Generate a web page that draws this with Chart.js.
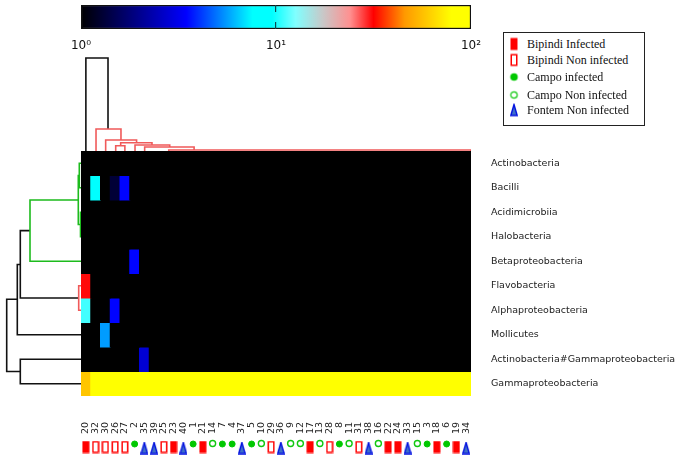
<!DOCTYPE html>
<html>
<head>
<meta charset="utf-8">
<script src="https://cdn.jsdelivr.net/npm/chart.js@4"></script>
<style>
  body { margin: 0; background: #fff; }
  canvas { position: absolute; }
  #legend { position: absolute; left: 503px; top: 32px; width: 142px; height: 94px; border: 1px solid #222;
            box-sizing: border-box; font: 12px "Liberation Serif", serif; color: #111; }
  #legend div { position: absolute; left: 23px; line-height: 14px; white-space: nowrap; }
  #legend canvas { left: -13px; top: 50%; transform: translate(-50%, -50%); }
</style>
</head>
<body>
<canvas id="colorbar" width="440" height="56" style="left:61px;top:0"></canvas>
<canvas id="topTree" width="390" height="101" style="left:81px;top:50px"></canvas>
<canvas id="leftTree" width="81" height="245" style="left:0;top:151px"></canvas>
<canvas id="heat" width="599" height="245" style="left:81px;top:151px"></canvas>
<canvas id="sampleLabels" width="420" height="30" style="left:66px;top:415px"></canvas>
<canvas id="strip" width="390" height="21" style="left:81px;top:436px"></canvas>
<div id="legend"></div>
<script>
const sampleIds = ["20","32","30","26","27","2","35","39","25","23","40","1","21","14","7","4","37","5","10","29",
  "36","9","12","17","13","28","8","11","31","38","16","22","24","33","15","3","18","6","19","34"];
// BI Bipindi infected, BN Bipindi non infected, CI Campo infected, CN Campo non infected, FN Fontem non infected
const sampleGroups = ["BI","BN","BN","BN","BN","CI","FN","FN","BN","BI","FN","CI","BI","CN","CI","CI","FN","CI","CN","BN",
  "FN","CN","CN","BI","CN","BN","CI","CN","BN","FN","CN","BI","BI","FN","CN","CI","BI","CI","BI","FN"];
const groupKeys = ["BI","BN","CI","CN","FN"];
const groupNames = ["Bipindi Infected","Bipindi Non infected","Campo infected","Campo Non infected","Fontem Non infected"];

const rowNames = ["Actinobacteria","Bacilli","Acidimicrobiia","Halobacteria","Betaproteobacteria","Flavobacteria",
  "Alphaproteobacteria","Mollicutes","Actinobacteria#Gammaproteobacteria","Gammaproteobacteria"];
const actinobacteria = [1,1,1,1,1,1,1,1,1,1,1,1,1,1,1,1,1,1,1,1,1,1,1,1,1,1,1,1,1,1,1,1,1,1,1,1,1,1,1,1];
const bacilli        = [1,8,1,1.3,3.5,1,1,1,1,1,1,1,1,1,1,1,1,1,1,1,1,1,1,1,1,1,1,1,1,1,1,1,1,1,1,1,1,1,1,1];
const acidimicrobiia = [1,1,1,1,1,1,1,1,1,1,1,1,1,1,1,1,1,1,1,1,1,1,1,1,1,1,1,1,1,1,1,1,1,1,1,1,1,1,1,1];
const halobacteria   = [1,1,1,1,1,1,1,1,1,1,1,1,1,1,1,1,1,1,1,1,1,1,1,1,1,1,1,1,1,1,1,1,1,1,1,1,1,1,1,1];
const betaproteo     = [1,1,1,1,1,3.5,1,1,1,1,1,1,1,1,1,1,1,1,1,1,1,1,1,1,1,1,1,1,1,1,1,1,1,1,1,1,1,1,1,1];
const flavobacteria  = [31,1,1,1,1,1,1,1,1,1,1,1,1,1,1,1,1,1,1,1,1,1,1,1,1,1,1,1,1,1,1,1,1,1,1,1,1,1,1,1];
const alphaproteo    = [11,1,1,3.5,1,1,1,1,1,1,1,1,1,1,1,1,1,1,1,1,1,1,1,1,1,1,1,1,1,1,1,1,1,1,1,1,1,1,1,1];
const mollicutes     = [1,1,5.6,1,1,1,1,1,1,1,1,1,1,1,1,1,1,1,1,1,1,1,1,1,1,1,1,1,1,1,1,1,1,1,1,1,1,1,1,1];
const actinoGamma    = [1,1,1,1,1,1,2.8,1,1,1,1,1,1,1,1,1,1,1,1,1,1,1,1,1,1,1,1,1,1,1,1,1,1,1,1,1,1,1,1,1];
const gammaproteo    = [58,100,100,100,100,100,100,100,100,100,100,100,100,100,100,100,100,100,100,100,100,100,100,100,100,100,100,100,100,100,100,100,100,100,100,100,100,100,100,100];
const rowValues = [actinobacteria,bacilli,acidimicrobiia,halobacteria,betaproteo,flavobacteria,alphaproteo,mollicutes,actinoGamma,gammaproteo];

const colorTicks = [1, 10, 100];
const colorTickLabels = ["10\u2070", "10\u00b9", "10\u00b2"];

// merges: [pos a, base a, pos b, base b, height]
const topBlack = [[0.5,0,2.77,22,93]];
const topRed = [[1.54,0,4.1,11,22],[2.53,0,5.7,8.3,11],[4.07,5.3,7.28,6,8.3],[3.56,0,4.5,0,5.3],[5.54,0,9.1,4,6],[6.53,0,11.6,1,4],[9,0,40,0,1]];
const leftBlack = [[8.5,0,9.5,0,60.7],[6.05,63.7,9,60.7,74.3],[4.63,60.7,7.5,0,63.7],[3.25,51,6,2.3,60.7]];
const leftGreen = [[2,2.7,4.5,0,51],[1,1.7,3,0.5,2.7],[0.5,0,1.5,0,1.7],[2.5,0,3.5,0,0.5]];
const leftRed = [[5.5,0,6.5,0,2.3]];

const colorStops = [[0,"#000000"],[0.27,"#0000ff"],[0.44,"#00ffff"],[0.49,"#00ffff"],[0.55,"#80ffff"],[0.62,"#c8c8c8"],
  [0.69,"#ff9090"],[0.75,"#ff0000"],[0.83,"#ff9900"],[0.95,"#ffff00"],[1,"#ffff00"]];

Chart.defaults.animation = false;
Chart.defaults.responsive = false;
Chart.defaults.layout.autoPadding = false;
Chart.defaults.font.family = "'DejaVu Sans'";
Chart.defaults.plugins.legend.display = false;
Chart.defaults.plugins.tooltip.enabled = false;

function hexRgb(hex) {
  return [1, 3, 5].map((i) => parseInt(hex.slice(i, i + 2), 16));
}

function valueColor(value) {
  const pos = Math.log10(value) / 2;
  for (let i = 1; i < colorStops.length; i++) {
    if (pos <= colorStops[i][0]) {
      const t = (pos - colorStops[i - 1][0]) / (colorStops[i][0] - colorStops[i - 1][0]);
      const a = hexRgb(colorStops[i - 1][1]);
      const b = hexRgb(colorStops[i][1]);
      return `rgb(${a.map((c, k) => Math.round(c + (b[k] - c) * t)).join(",")})`;
    }
  }
  return colorStops[colorStops.length - 1][1];
}

function markerCanvas(kind) {
  const c = document.createElement("canvas");
  const g = c.getContext("2d");
  if (kind === "BI" || kind === "BN") {
    c.width = 8; c.height = 13;
    g.fillStyle = "#ff0000";
    g.fillRect(0.5, 0.5, 7, 12);
    if (kind === "BN") {
      g.fillStyle = "#fff";
      g.fillRect(2, 2, 4, 9);
    }
  } else {
    c.width = 8; c.height = 13;
    g.beginPath();
    g.moveTo(4, 1); g.lineTo(7.2, 12); g.lineTo(0.8, 12); g.closePath();
    g.fillStyle = "#3f6fc8";
    g.strokeStyle = "#0010e0";
    g.lineWidth = 1.4;
    g.fill(); g.stroke();
  }
  return c;
}

function markerStyle(kind) {
  if (kind === "CI") return { pointStyle: "circle", pointRadius: 3, pointBackgroundColor: "#00c800", pointBorderColor: "#00c800", pointBorderWidth: 1 };
  if (kind === "CN") return { pointStyle: "circle", pointRadius: 3, pointBackgroundColor: "#fff", pointBorderColor: "#10c810", pointBorderWidth: 1.4 };
  return { pointStyle: markerCanvas(kind) };
}

function mergePath(m, flip) {
  const pts = [[m[0], m[1]], [m[0], m[4]], [m[2], m[4]], [m[2], m[3]]];
  return pts.map((p) => (flip ? { x: p[1], y: p[0] } : { x: p[0], y: p[1] }));
}

function treeDatasets(merges, color, flip) {
  return merges.map((m) => ({
    data: mergePath(m, flip), showLine: true, borderColor: color, borderWidth: 1.6,
    pointRadius: 0, clip: false, tension: 0,
  }));
}

// no extra margin for labels that overhang the plot
function noOverhang(scale) {
  scale.paddingLeft = scale.paddingRight = scale.paddingTop = scale.paddingBottom = 0;
}

const blackBackdrop = {
  id: "blackBackdrop",
  beforeDatasetsDraw(chart) {
    const a = chart.chartArea;
    chart.ctx.fillStyle = "#000";
    chart.ctx.fillRect(a.left, a.top, a.right - a.left, a.bottom - a.top);
  },
};

new Chart(document.getElementById("colorbar"), {
  type: "bar",
  data: {
    labels: ["scale"],
    datasets: [{
      data: [[colorTicks[0], colorTicks[2]]],
      borderColor: "#111", borderWidth: 1.5, borderSkipped: false,
      barPercentage: 1, categoryPercentage: 1,
      backgroundColor: (ctx) => {
        const area = ctx.chart.chartArea;
        if (!area) return "#000";
        const grad = ctx.chart.ctx.createLinearGradient(area.left, 0, area.right, 0);
        colorStops.forEach((s) => grad.addColorStop(s[0], s[1]));
        return grad;
      },
    }],
  },
  options: {
    indexAxis: "y",
    layout: { padding: { top: 5, left: 20, right: 30 } },
    scales: {
      x: {
        type: "logarithmic", min: 1, max: 100,
        afterBuildTicks: (s) => { s.ticks = colorTicks.map((v) => ({ value: v })); },
        afterFit: (s) => { s.height = 27; noOverhang(s); },
        border: { display: false, dash: [7, 10] },
        grid: { color: (c) => (c.tick && c.tick.value === 10 ? "#0b4a50" : "transparent"), lineWidth: 1.2, z: 1, drawTicks: false },
        ticks: { autoSkip: false, maxRotation: 0, padding: 10, color: "#111", font: { size: 12 },
          callback: (v) => colorTickLabels[colorTicks.indexOf(v)] },
      },
      y: { display: false },
    },
  },
});

new Chart(document.getElementById("topTree"), {
  type: "scatter",
  data: { datasets: [...treeDatasets(topRed, "#f05a5a", false), ...treeDatasets(topBlack, "#111", false)] },
  options: { scales: { x: { display: false, min: 0, max: 40 }, y: { display: false, min: 0, max: 101 } } },
});

new Chart(document.getElementById("leftTree"), {
  type: "scatter",
  data: { datasets: [...treeDatasets(leftRed, "#f05a5a", true), ...treeDatasets(leftGreen, "#1dbb1d", true), ...treeDatasets(leftBlack, "#111", true)] },
  options: { scales: { x: { display: false, min: 0, max: 81, reverse: true }, y: { display: false, min: 0, max: 10, reverse: true } } },
});

new Chart(document.getElementById("heat"), {
  type: "bar",
  plugins: [blackBackdrop],
  data: {
    labels: sampleIds,
    datasets: rowValues.map((values, r) => ({
      data: values.map(() => [r, r + 1]),
      backgroundColor: values.map(valueColor),
      borderWidth: 0, barPercentage: 1, categoryPercentage: 1, grouped: false, inflateAmount: 0.5,
    })),
  },
  options: {
    scales: {
      x: { display: false },
      y: {
        position: "right", min: 0, max: 10, reverse: true,
        afterBuildTicks: (s) => { s.ticks = rowNames.map((_, i) => ({ value: i + 0.5 })); },
        afterFit: (s) => { s.width = 209; noOverhang(s); },
        grid: { display: false, drawTicks: false }, border: { display: false },
        ticks: { padding: 20, color: "#222", font: { size: 9.5 }, autoSkip: false,
          callback: (v) => rowNames[v - 0.5] },
      },
    },
  },
});

// sample numbers under the heatmap, the plot area of this chart is only a thin empty strip
new Chart(document.getElementById("sampleLabels"), {
  type: "bar",
  data: { labels: sampleIds, datasets: [] },
  options: {
    layout: { padding: { left: 15, right: 15 } },
    scales: {
      x: {
        afterFit: (s) => { s.height = 24; },
        grid: { display: false, drawTicks: false }, border: { display: false },
        ticks: { autoSkip: false, minRotation: 90, maxRotation: 90, padding: 1, color: "#222", font: { size: 9.5 } },
      },
      y: { display: false },
    },
  },
});

const groupLevels = { BI: 11, BN: 11, CI: 8, CN: 7.5, FN: 12 };

new Chart(document.getElementById("strip"), {
  type: "scatter",
  data: {
    labels: sampleIds,
    datasets: groupKeys.map((key) => ({
      data: sampleIds.filter((_, i) => sampleGroups[i] === key).map((id) => ({ x: id, y: groupLevels[key] })),
      clip: false,
      ...markerStyle(key),
    })),
  },
  options: {
    scales: {
      x: { type: "category", offset: true, display: false },
      y: { display: false, min: 0, max: 21, reverse: true },
    },
  },
});

const legendEl = document.getElementById("legend");
const legendTops = [4, 20, 37, 55, 70];
groupNames.forEach((name, i) => {
  const row = document.createElement("div");
  row.style.top = legendTops[i] + "px";
  row.textContent = name;
  const key = groupKeys[i];
  let icon;
  if (key === "CI" || key === "CN") {
    icon = document.createElement("canvas");
    icon.width = 9; icon.height = 9;
    const g = icon.getContext("2d");
    g.beginPath();
    g.arc(4.5, 4.5, 3.2, 0, Math.PI * 2);
    g.lineWidth = 1.2;
    g.fillStyle = key === "CI" ? "#00c800" : "#fff";
    g.strokeStyle = key === "CI" ? "#00c800" : "#10c810";
    g.fill(); g.stroke();
  } else {
    icon = markerCanvas(key);
  }
  row.appendChild(icon);
  legendEl.appendChild(row);
});
</script>
</body>
</html>
